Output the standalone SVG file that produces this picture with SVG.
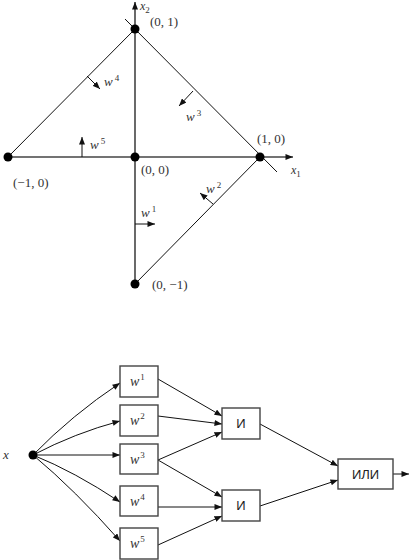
<svg xmlns="http://www.w3.org/2000/svg" width="409" height="560" viewBox="0 0 409 560">
<style>
.ax{stroke:#444;stroke-width:1.6;fill:none}
.ln{stroke:#111;stroke-width:1;fill:none}
.box{fill:#fff;stroke:#444;stroke-width:1.4}
.math{font-family:"Liberation Serif",serif;font-style:italic;fill:#333}
.num{font-family:"Liberation Serif",serif;fill:#333;font-size:13px}
.sup{font-family:"Liberation Serif",serif;font-size:9px;font-style:normal;fill:#333}
.cyr{font-family:"Liberation Sans","DejaVu Sans",sans-serif;font-size:13px;fill:#222}
.dot{fill:#000}
</style>
<defs>
<marker id="ah" viewBox="0 0 10 8" refX="10" refY="4" markerWidth="8" markerHeight="6" markerUnits="userSpaceOnUse" orient="auto">
<path d="M0,0 L10,4 L0,8 Z" fill="#111"/>
</marker>
</defs>

<g id="plot">
<g id="axes">
<line class="ax" x1="135" y1="284" x2="135" y2="2" marker-end="url(#ah)"/>
<line class="ax" x1="8" y1="157" x2="293" y2="157" marker-end="url(#ah)"/>
</g>
<g id="lines">
<line class="ln" x1="8" y1="157" x2="135" y2="29"/>
<line class="ln" x1="125" y1="19" x2="277" y2="172"/>
<line class="ln" x1="135" y1="284" x2="260" y2="157"/>
</g>
<g id="normals">
<line class="ln" x1="87" y1="76" x2="100" y2="89" marker-end="url(#ah)"/>
<line class="ln" x1="193" y1="91" x2="179" y2="106" marker-end="url(#ah)"/>
<line class="ln" x1="82" y1="157" x2="82" y2="137" marker-end="url(#ah)"/>
<line class="ln" x1="135" y1="224" x2="155" y2="224" marker-end="url(#ah)"/>
<line class="ln" x1="213" y1="204" x2="200" y2="193" marker-end="url(#ah)"/>
</g>
<g id="points">
<circle class="dot" cx="135" cy="29" r="4.5"/>
<circle class="dot" cx="260" cy="157" r="4.5"/>
<circle class="dot" cx="8" cy="157" r="4.5"/>
<circle class="dot" cx="135" cy="157" r="4.5"/>
<circle class="dot" cx="135" cy="284" r="4.5"/>
</g>
<g id="plot-labels">
<text class="math" x="140" y="10" font-size="12">x<tspan class="sup" dy="3">2</tspan></text>
<text class="math" x="291" y="174" font-size="12">x<tspan class="sup" dy="3">1</tspan></text>
<text class="num" x="150" y="26">(0, 1)</text>
<text class="num" x="257" y="143">(1, 0)</text>
<text class="num" x="13" y="187">(−1, 0)</text>
<text class="num" x="141" y="174">(0, 0)</text>
<text class="num" x="152" y="289">(0, −1)</text>
<text class="math" x="104" y="86" font-size="13">w<tspan class="sup" dx="2" dy="-5">4</tspan></text>
<text class="math" x="186" y="121" font-size="13">w<tspan class="sup" dx="2" dy="-5">3</tspan></text>
<text class="math" x="90" y="149" font-size="13">w<tspan class="sup" dx="2" dy="-5">5</tspan></text>
<text class="math" x="141" y="217" font-size="13">w<tspan class="sup" dx="2" dy="-5">1</tspan></text>
<text class="math" x="206" y="193" font-size="13">w<tspan class="sup" dx="2" dy="-5">2</tspan></text>
</g>
</g>

<g id="connectors">
<path class="ln" d="M33,455 Q72,415 120,383" marker-end="url(#ah)"/>
<path class="ln" d="M33,455 Q75,433 120,421" marker-end="url(#ah)"/>
<path class="ln" d="M33,455 L120,455" marker-end="url(#ah)"/>
<path class="ln" d="M33,455 Q75,472 120,502" marker-end="url(#ah)"/>
<path class="ln" d="M33,455 Q75,490 120,541" marker-end="url(#ah)"/>
<line class="ln" x1="158" y1="379" x2="222" y2="416" marker-end="url(#ah)"/>
<line class="ln" x1="158" y1="416" x2="222" y2="424" marker-end="url(#ah)"/>
<line class="ln" x1="158" y1="460" x2="222" y2="432" marker-end="url(#ah)"/>
<line class="ln" x1="158" y1="460" x2="222" y2="497" marker-end="url(#ah)"/>
<line class="ln" x1="158" y1="507" x2="222" y2="507" marker-end="url(#ah)"/>
<line class="ln" x1="158" y1="545" x2="222" y2="516" marker-end="url(#ah)"/>
<line class="ln" x1="260" y1="424" x2="338" y2="466" marker-end="url(#ah)"/>
<line class="ln" x1="260" y1="506" x2="338" y2="480" marker-end="url(#ah)"/>
<line class="ln" x1="393" y1="474" x2="409" y2="474" marker-end="url(#ah)"/>
</g>

<g id="x-node">
<circle class="dot" cx="33" cy="455" r="4.5"/>
<text class="math" x="3" y="459" font-size="13">x</text>
</g>
<g id="w1"><rect class="box" x="120" y="366" width="38" height="31"/><text class="math" x="130" y="386" font-size="14">w<tspan class="sup" dx="1" dy="-6">1</tspan></text></g>
<g id="w2"><rect class="box" x="120" y="405" width="38" height="31"/><text class="math" x="130" y="425" font-size="14">w<tspan class="sup" dx="1" dy="-6">2</tspan></text></g>
<g id="w3"><rect class="box" x="120" y="444" width="38" height="30"/><text class="math" x="130" y="464" font-size="14">w<tspan class="sup" dx="1" dy="-6">3</tspan></text></g>
<g id="w4"><rect class="box" x="120" y="486" width="38" height="30"/><text class="math" x="130" y="506" font-size="14">w<tspan class="sup" dx="1" dy="-6">4</tspan></text></g>
<g id="w5"><rect class="box" x="120" y="528" width="38" height="31"/><text class="math" x="130" y="548" font-size="14">w<tspan class="sup" dx="1" dy="-6">5</tspan></text></g>
<g id="and1"><rect class="box" x="222" y="408" width="38" height="31"/><text class="cyr" x="241" y="428" text-anchor="middle">И</text></g>
<g id="and2"><rect class="box" x="222" y="490" width="38" height="31"/><text class="cyr" x="241" y="510" text-anchor="middle">И</text></g>
<g id="or"><rect class="box" x="338" y="459" width="55" height="30"/><text class="cyr" x="365.5" y="479" text-anchor="middle">ИЛИ</text></g>
</svg>
